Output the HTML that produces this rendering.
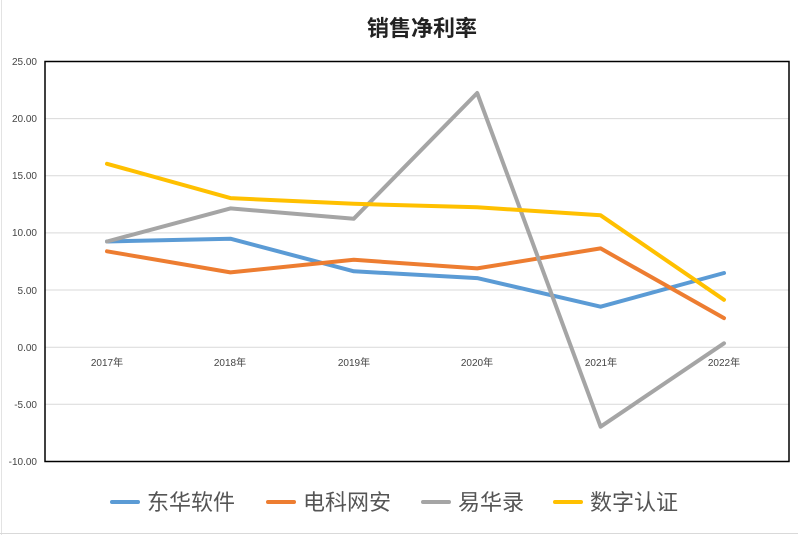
<!DOCTYPE html>
<html><head><meta charset="utf-8"><style>
html,body{margin:0;padding:0;background:#fff;}
svg{display:block;font-family:"Liberation Sans","Noto Sans CJK SC",sans-serif;}
</style></head><body>
<svg width="798" height="535" viewBox="0 0 798 535">
<rect width="798" height="535" fill="#fff"/>
<line x1="1.5" y1="0" x2="1.5" y2="535" stroke="#e3e3e3"/>
<line x1="0" y1="533.5" x2="798" y2="533.5" stroke="#d9d9d9"/>
<text x="422" y="36" text-anchor="middle" font-size="22" font-weight="bold" fill="#222" font-family="'Noto Sans CJK SC',sans-serif">销售净利率</text>
<g stroke="#d9d9d9" stroke-width="1">
<line x1="45" y1="118.6" x2="789" y2="118.6"/>
<line x1="45" y1="175.7" x2="789" y2="175.7"/>
<line x1="45" y1="232.9" x2="789" y2="232.9"/>
<line x1="45" y1="290" x2="789" y2="290"/>
<line x1="45" y1="347.2" x2="789" y2="347.2"/>
<line x1="45" y1="404.3" x2="789" y2="404.3"/>
</g>
<rect x="45" y="61.5" width="744" height="400" fill="none" stroke="#000" stroke-width="1.5"/>
<g font-size="10" fill="#444" text-anchor="end">
<text x="37" y="65">25.00</text>
<text x="37" y="122">20.00</text>
<text x="37" y="179">15.00</text>
<text x="37" y="236">10.00</text>
<text x="37" y="294">5.00</text>
<text x="37" y="351">0.00</text>
<text x="37" y="408">-5.00</text>
<text x="37" y="465">-10.00</text>
</g>
<g font-size="10" fill="#444" text-anchor="middle">
<text x="107" y="366">2017年</text>
<text x="230" y="366">2018年</text>
<text x="354" y="366">2019年</text>
<text x="477" y="366">2020年</text>
<text x="601" y="366">2021年</text>
<text x="724" y="366">2022年</text>
</g>
<g fill="none" stroke-width="4" stroke-linejoin="round" stroke-linecap="round">
<polyline stroke="#5b9bd5" points="107,241.5 230.4,238.7 353.8,271.3 477.2,278.1 600.6,306.7 724,273"/>
<polyline stroke="#ed7d31" points="107,251.3 230.4,272.4 353.8,259.8 477.2,268.4 600.6,248.4 724,318.1"/>
<polyline stroke="#a5a5a5" points="107,241.5 230.4,208.4 353.8,218.7 477.2,93 600.6,426.7 724,343.3"/>
<polyline stroke="#ffc000" points="107,163.8 230.4,198.1 353.8,203.8 477.2,207.3 600.6,215.3 724,299.8"/>
</g>
<g stroke-width="4" stroke-linecap="round">
<line x1="112" y1="502" x2="138" y2="502" stroke="#5b9bd5"/>
<line x1="268" y1="502" x2="294" y2="502" stroke="#ed7d31"/>
<line x1="423" y1="502" x2="449" y2="502" stroke="#a5a5a5"/>
<line x1="555" y1="502" x2="581" y2="502" stroke="#ffc000"/>
</g>
<g font-size="22" fill="#555" font-family="'Noto Sans CJK SC',sans-serif">
<text x="147" y="510">东华软件</text>
<text x="303" y="510">电科网安</text>
<text x="458" y="510">易华录</text>
<text x="590" y="510">数字认证</text>
</g>
</svg>
</body></html>
